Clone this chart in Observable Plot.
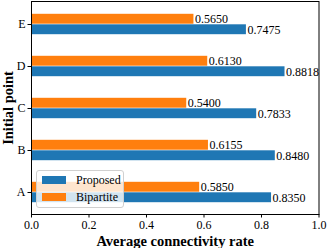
<!DOCTYPE html>
<html><head><meta charset="utf-8">
<script src="https://cdn.jsdelivr.net/npm/d3@7"></script>
<script src="https://cdn.jsdelivr.net/npm/@observablehq/plot@0.6"></script>
<style>
body{margin:0;background:#fff;}
#chart{position:relative;width:327px;height:248px;font-family:'Liberation Serif','Times New Roman',serif;}
#chart svg, #chart svg text{font-family:'Liberation Serif','Times New Roman',serif !important;}
#legend{position:absolute;left:36px;top:170px;width:88px;height:38px;border:1px solid #d0d0d0;border-radius:3px;background:rgba(255,255,255,0.8);box-sizing:border-box;}
.sw{position:absolute;left:5px;width:24px;height:7.5px;}
.lt{position:absolute;left:39px;font-size:12px;line-height:12px;color:#000;font-family:'Liberation Serif','Times New Roman',serif;}
</style>
</head><body><div id="chart"></div>
<script>
const categories = ["A","B","C","D","E"];
const proposed = [0.8350,0.8480,0.7833,0.8818,0.7475];
const bipartite = [0.5850,0.6155,0.5400,0.6130,0.5650];
const xTicks = [0,0.2,0.4,0.6,0.8,1.0];
const seriesNames = ["Proposed","Bipartite"];
const seriesColors = ["#1f77b4","#ff7f0e"];

const W = 327, H = 248, mt = 1, mb = 34, ml = 31, mr = 8.5;
const step = (H - mt - mb) / categories.length;
const half = step / 2, barH = 10.5;

const propRows = categories.map((c,i)=>({cat:c, value:proposed[i]}));
const bipRows = categories.map((c,i)=>({cat:c, value:bipartite[i]}));

const plot = Plot.plot({
  width: W, height: H,
  marginTop: mt, marginBottom: mb, marginLeft: ml, marginRight: mr,
  style: {fontSize: "12px", color: "#000", background: "#fff"},
  x: {domain: [0,1], ticks: xTicks, tickFormat: d3.format(".1f")},
  y: {domain: categories.slice().reverse(), padding: 0},
  marks: [
    Plot.barX(bipRows, {x: "value", y: "cat", fill: seriesColors[1], insetTop: half - barH, insetBottom: half}),
    Plot.barX(propRows, {x: "value", y: "cat", fill: seriesColors[0], insetTop: half, insetBottom: half - barH}),
    Plot.text(bipRows, {x: "value", y: "cat", text: d => d.value.toFixed(4), textAnchor: "start", dx: 1, dy: -5.5, fontSize: 12, fill: "#000"}),
    Plot.text(propRows, {x: "value", y: "cat", text: d => d.value.toFixed(4), textAnchor: "start", dx: 1, dy: 6, fontSize: 12, fill: "#000"}),
    Plot.axisX({ticks: xTicks, tickFormat: d3.format(".1f"), tickSize: 3.5, tickPadding: 2.5, fontSize: 12, label: null}),
    Plot.axisY({tickSize: 3.5, tickPadding: 2.5, fontSize: 12, label: null}),
    Plot.frame({stroke: "#000"}),
    Plot.text(["Average connectivity rate"], {frameAnchor: "bottom", textAnchor: "middle", lineAnchor: "middle", dy: 26.5, fontSize: 14.5, fontWeight: "bold", fill: "#000"}),
    Plot.text(["Initial point"], {frameAnchor: "left", textAnchor: "middle", lineAnchor: "middle", rotate: -90, dx: -23.5, fontSize: 14.5, fontWeight: "bold", fill: "#000"})
  ]
});
const chart = document.getElementById("chart");
chart.appendChild(plot);
const lg = document.createElement("div");
lg.id = "legend";
seriesNames.forEach((n,i)=>{
  const sw = document.createElement("div");
  sw.className = "sw"; sw.style.background = seriesColors[i]; sw.style.top = (5 + i*17.3) + "px";
  const t = document.createElement("div");
  t.className = "lt"; t.textContent = n; t.style.top = (3 + i*17) + "px";
  lg.appendChild(sw); lg.appendChild(t);
});
chart.appendChild(lg);
</script>
</body></html>
